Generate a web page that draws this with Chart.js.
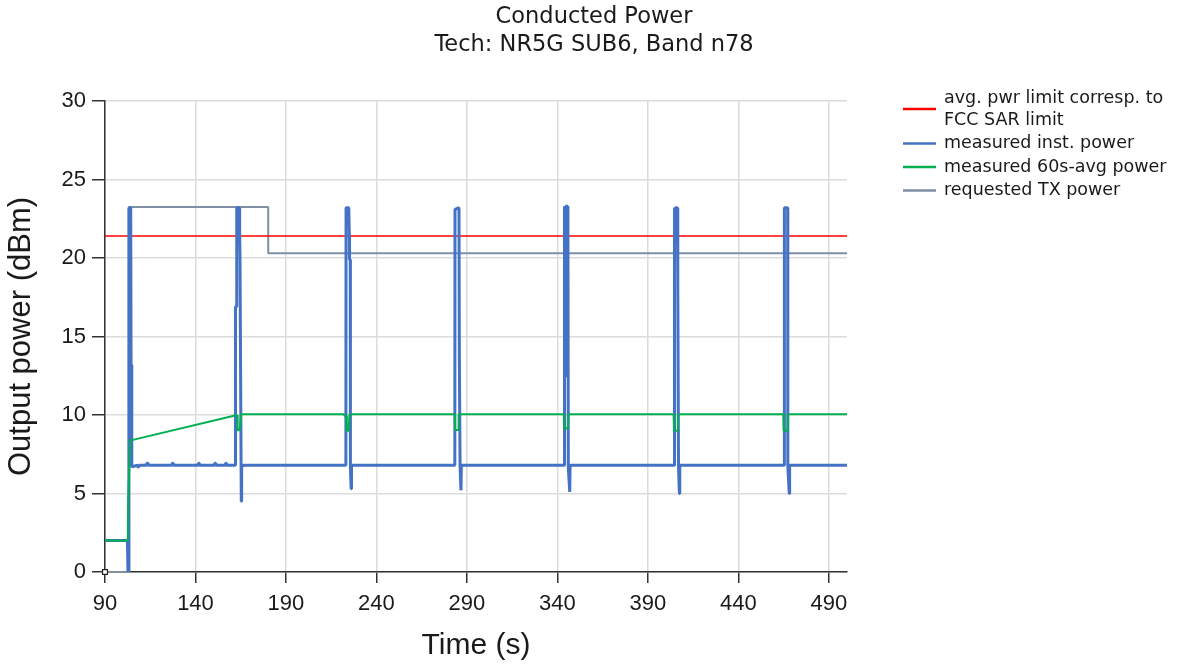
<!DOCTYPE html>
<html>
<head>
<meta charset="utf-8">
<script src="https://cdn.jsdelivr.net/npm/chart.js@4.4.1/dist/chart.umd.min.js"></script>
<style>
  html, body { margin: 0; padding: 0; background: #fff; }
  #wrap { width: 1182px; height: 664px; }
</style>
</head>
<body>
<div id="wrap"><canvas id="powerChart"></canvas></div>
<script>
// tick labels
const timeTicks = [90, 140, 190, 240, 290, 340, 390, 440, 490];
const powerTicks = [0, 5, 10, 15, 20, 25, 30];

// avg. pwr limit (red)
const limitTime = [90, 500];
const limitPower = [21.4, 21.4];

// requested TX power (gray)
const reqTime = [90, 103.3, 103.3, 180.2, 180.2, 500];
const reqPower = [0, 0, 23.25, 23.25, 20.3, 20.3];

// measured inst. power (blue)
const instTime = [
  90, 102.4, 102.7, 103.0, 103.2, 104.2, 104.4, 104.7, 104.9,
  108.0, 108.1, 108.6, 108.7, 113.0, 113.1, 113.8, 113.9, 127.0, 127.1, 127.7, 127.8,
  141.5, 141.6, 142.1, 142.2, 150.5, 150.6, 151.2, 151.3, 156.5, 156.6, 157.1, 157.2,
  162.0, 162.1, 162.6, 162.8, 164.2, 164.4, 164.6, 165.0, 165.3, 165.5, 166.5,
  223.1, 223.2, 224.7, 225.0, 225.1, 225.5, 225.6, 226.0, 226.2,
  283.3, 283.4, 285.6, 285.8, 286.1, 286.2, 286.7, 286.9,
  343.8, 343.9, 344.4, 344.5, 344.6, 345.6, 345.8, 346.0, 346.8, 347.0,
  404.6, 404.7, 405.0, 405.1, 406.3, 406.4, 406.6, 406.9, 407.4, 407.6,
  465.3, 465.4, 467.2, 467.3, 468.1, 468.3, 500
];
const instPower = [
  2.0, 2.0, 0.0, 0.0, 23.2, 23.2, 13.2, 13.2, 6.7,
  6.8, 6.68, 6.68, 6.8, 6.8, 6.92, 6.92, 6.8, 6.8, 6.92, 6.92, 6.8,
  6.8, 6.92, 6.92, 6.8, 6.8, 6.92, 6.92, 6.8, 6.8, 6.92, 6.92, 6.8,
  6.8, 16.9, 16.9, 23.2, 23.2, 21.6, 19.9, 19.9, 4.5, 6.7, 6.8,
  6.8, 23.2, 23.2, 21.4, 19.9, 19.9, 6.7, 5.3, 6.8,
  6.8, 23.1, 23.2, 13.7, 13.7, 6.7, 5.2, 6.8,
  6.8, 23.3, 20.3, 12.4, 23.3, 23.3, 21.8, 6.7, 5.1, 6.8,
  6.8, 23.2, 20.9, 23.2, 23.2, 20.4, 18.4, 6.7, 5.0, 6.8,
  6.8, 23.2, 23.2, 6.75, 5.0, 6.8, 6.8
];

// measured 60s-avg power (green)
const avgTime = [
  90, 102.6, 102.8, 103.7, 104.0, 104.8, 163.0, 163.3, 164.5, 165.2,
  222.0, 222.3, 223.2, 223.6, 224.6, 225.1,
  283.3, 283.5, 285.2, 285.4,
  343.5, 343.7, 345.8, 346.0,
  404.2, 404.4, 406.4, 406.6,
  464.8, 465.0, 467.1, 467.3, 500
];
const avgPower = [
  2.0, 2.0, 4.6, 7.6, 8.4, 8.4, 10.0, 9.0, 9.1, 10.05,
  10.05, 9.95, 9.95, 9.0, 9.0, 10.05,
  10.05, 9.05, 9.05, 10.05,
  10.05, 9.15, 9.15, 10.05,
  10.05, 9.0, 9.0, 10.05,
  10.05, 9.0, 9.0, 10.05, 10.05
];

const titleLines = ['Conducted Power', 'Tech: NR5G SUB6, Band n78'];
const legendLabels = [
  ['avg. pwr limit corresp. to', 'FCC SAR limit'],
  ['measured inst. power'],
  ['measured 60s-avg power'],
  ['requested TX power']
];
const seriesColors = ['#ff0000', '#4472c4', '#00b050', '#7f8fa6'];

const toPoints = (xs, ys) => xs.map((x, i) => ({ x: x, y: ys[i] }));

// title and legend are drawn by hand so they can sit where the original has them
const sideTexts = {
  id: 'sideTexts',
  afterDraw(chart) {
    const ctx = chart.ctx;
    ctx.save();
    ctx.fillStyle = '#1a1a1a';
    ctx.textBaseline = 'middle';

    ctx.font = '22.5px "DejaVu Sans"';
    ctx.textAlign = 'center';
    titleLines.forEach((t, k) => ctx.fillText(t, 594, 17 + k * 28));

    ctx.font = '17.5px "DejaVu Sans"';
    ctx.textAlign = 'left';
    let y = 98;
    legendLabels.forEach((lines, i) => {
      const midY = y + (lines.length - 1) * 22 / 2;
      ctx.strokeStyle = seriesColors[i];
      ctx.lineWidth = 2.5;
      ctx.beginPath();
      ctx.moveTo(903, midY);
      ctx.lineTo(936, midY);
      ctx.stroke();
      lines.forEach((t, k) => ctx.fillText(t, 944, y + k * 22));
      y += (lines.length - 1) * 22 + 23.5;
    });
    ctx.restore();
  }
};

new Chart('powerChart', {
  type: 'scatter',
  data: {
    datasets: [
      {
        label: 'origin',
        data: [{ x: 90, y: 0 }],
        pointStyle: 'rect',
        pointRadius: 3.5,
        backgroundColor: '#fff',
        borderColor: '#222',
        borderWidth: 1.2,
        clip: false,
        order: 0
      },
      {
        label: legendLabels[2].join(' '),
        data: toPoints(avgTime, avgPower),
        showLine: true,
        borderColor: seriesColors[2],
        borderWidth: 2,
        borderJoinStyle: 'bevel',
        pointRadius: 0,
        order: 1
      },
      {
        label: legendLabels[1].join(' '),
        data: toPoints(instTime, instPower),
        showLine: true,
        borderColor: seriesColors[1],
        borderWidth: 3,
        borderJoinStyle: 'bevel',
        pointRadius: 0,
        order: 2
      },
      {
        label: legendLabels[0].join(' '),
        data: toPoints(limitTime, limitPower),
        showLine: true,
        borderColor: seriesColors[0],
        borderWidth: 1.6,
        pointRadius: 0,
        order: 3
      },
      {
        label: legendLabels[3].join(' '),
        data: toPoints(reqTime, reqPower),
        showLine: true,
        borderColor: seriesColors[3],
        borderWidth: 2,
        borderJoinStyle: 'bevel',
        pointRadius: 0,
        order: 4
      }
    ]
  },
  options: {
    responsive: true,
    maintainAspectRatio: false,
    animation: false,
    devicePixelRatio: 1,
    layout: { padding: { left: 0, right: 335, top: 101, bottom: 0 } },
    plugins: {
      legend: { display: false },
      tooltip: { enabled: false },
      title: { display: false }
    },
    scales: {
      x: {
        type: 'linear',
        min: 90,
        max: 500,
        afterFit: (s) => { s.height = 92; },
        afterBuildTicks: (s) => { s.ticks = timeTicks.map(v => ({ value: v })); },
        ticks: {
          color: '#1a1a1a',
          padding: 8,
          font: { family: '"Liberation Sans"', size: 22 }
        },
        grid: { color: '#dcdcdc', lineWidth: 1.5, tickColor: '#333', tickLength: 11 },
        border: { color: '#333', width: 1.5 },
        title: {
          display: true,
          text: 'Time (s)',
          color: '#1a1a1a',
          font: { family: '"Liberation Sans"', size: 30 },
          padding: { top: 0, bottom: 0 }
        }
      },
      y: {
        type: 'linear',
        min: 0,
        max: 30,
        afterFit: (s) => { s.width = 105; },
        afterBuildTicks: (s) => { s.ticks = powerTicks.map(v => ({ value: v })); },
        ticks: {
          color: '#1a1a1a',
          padding: 6,
          font: { family: '"Liberation Sans"', size: 22 }
        },
        grid: { color: '#dcdcdc', lineWidth: 1.5, tickColor: '#333', tickLength: 13 },
        border: { color: '#333', width: 1.5 },
        title: {
          display: true,
          text: 'Output power (dBm)',
          color: '#1a1a1a',
          font: { family: '"Liberation Sans"', size: 31 },
          padding: { top: 3, bottom: 0 }
        }
      }
    }
  },
  plugins: [sideTexts]
});
</script>
</body>
</html>
